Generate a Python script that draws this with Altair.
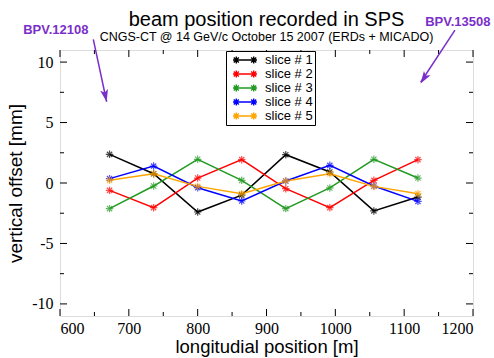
import altair as alt
import pandas as pd

# ---- data ----
x_pos = [672, 736, 800, 864, 928, 992, 1056, 1120]
slice1 = [2.37, 0.77, -2.40, -1.00, 2.34, 0.91, -2.31, -1.16]
slice2 = [-0.61, -2.04, 0.41, 1.93, -0.47, -2.04, 0.22, 1.93]
slice3 = [-2.12, -0.25, 1.96, 0.22, -2.12, -0.41, 1.96, 0.41]
slice4 = [0.36, 1.40, -0.39, -1.49, 0.17, 1.46, -0.25, -1.52]
slice5 = [0.22, 0.77, -0.28, -0.88, 0.17, 0.77, -0.28, -0.88]
series_names = ["slice # 1", "slice # 2", "slice # 3", "slice # 4", "slice # 5"]
series_colors = ["#000000", "#ff0000", "#229a22", "#0000ff", "#ffa500"]

x_major = [600, 700, 800, 900, 1000, 1100, 1200]
x_minor = [650, 750, 850, 950, 1050, 1150]
y_major = [-10, -5, 0, 5, 10]
y_minor = [-7.5, -2.5, 2.5, 7.5]

ann_labels = ["BPV.12108", "BPV.13508"]
ann_text_x = [594, 1178]
ann_text_y = [12.65, 13.3]
arrow_x0 = [648.4, 1173.8]
arrow_y0 = [11.88, 12.65]
arrow_x1 = [667.8, 1124.0]
arrow_y1 = [6.72, 8.33]
head_x = [665.9, 1128.7]
head_y = [7.21, 8.66]
head_angle = [168, 213]

W, H = 413, 266
PURPLE = "#7a2fc9"

rows = []
for name, vals in zip(series_names, [slice1, slice2, slice3, slice4, slice5]):
    for xv, yv in zip(x_pos, vals):
        rows.append({"x": xv, "y": yv, "series": name})
df = pd.DataFrame(rows)

xs = alt.Scale(domain=[600, 1200], nice=False, zero=False)
ys = alt.Scale(domain=[-11, 11], nice=False, zero=False)

star = "M0,-1L0,1M-1,0L1,0M-0.7,-0.7L0.7,0.7M-0.7,0.7L0.7,-0.7"
# legend symbol: nominal 12px box (scale 6px/unit), drawn 24px wide
leg_sym = ("M-2,0L2,0"
           "M-1.45,-0.6L-1.45,0.6M-1.87,-0.42L-1.03,0.42M-1.87,0.42L-1.03,-0.42"
           "M1.45,-0.6L1.45,0.6M1.03,-0.42L1.87,0.42M1.03,0.42L1.87,-0.42")

color = alt.Color(
    "series:N",
    scale=alt.Scale(domain=series_names, range=series_colors),
    legend=alt.Legend(
        title=None, orient="none", legendX=166, legendY=1,
        symbolType=leg_sym, symbolSize=144, symbolStrokeWidth=1.4,
        symbolFillColor="transparent", symbolOffset=10,
        labelFont="Liberation Sans", labelFontSize=13, labelColor="black",
        labelOffset=13, rowPadding=0,
        strokeColor="black", fillColor="white", padding=2,
    ),
)

xaxis = alt.Axis(values=x_major, ticks=False, domain=False, grid=False,
                 labelFont="Liberation Serif", labelFontSize=16, labelColor="black",
                 labelPadding=4, labelExpr="datum.value + ''",
                 title="longitudial position [m]", titleFont="Liberation Sans",
                 titleFontSize=18.5, titleFontWeight="normal", titleColor="black",
                 titlePadding=1)
yaxis = alt.Axis(values=y_major, ticks=False, domain=False, grid=False,
                 labelFont="Liberation Serif", labelFontSize=16, labelColor="black",
                 labelPadding=7, labelExpr="datum.value + ''",
                 title="vertical offset [mm]", titleFont="Liberation Sans",
                 titleFontSize=19, titleFontWeight="normal", titleColor="black",
                 titlePadding=6)

base = alt.Chart(df)
lines = base.mark_line(strokeWidth=1.5).encode(
    x=alt.X("x:Q", scale=xs, axis=xaxis),
    y=alt.Y("y:Q", scale=ys, axis=yaxis),
    color=color,
    order=alt.Order("x:Q"),
)
pts = base.mark_point(shape=star, filled=False, size=56, strokeWidth=1.2).encode(
    x=alt.X("x:Q", scale=xs),
    y=alt.Y("y:Q", scale=ys),
    color=alt.Color("series:N", scale=alt.Scale(domain=series_names, range=series_colors), legend=None),
)

# inward ticks
xmaj = pd.DataFrame({"v": x_major})
xmin = pd.DataFrame({"v": x_minor})
ymaj = pd.DataFrame({"v": y_major})
ymin = pd.DataFrame({"v": y_minor})

def xticks(d, L):
    b = alt.Chart(d).mark_rule(color="black", strokeWidth=1)
    return (b.encode(x=alt.X("v:Q", scale=xs), y=alt.value(H), y2=alt.value(H - L))
            + b.encode(x=alt.X("v:Q", scale=xs), y=alt.value(0), y2=alt.value(L)))

def yticks(d, L):
    b = alt.Chart(d).mark_rule(color="black", strokeWidth=1)
    return (b.encode(y=alt.Y("v:Q", scale=ys), x=alt.value(0), x2=alt.value(L))
            + b.encode(y=alt.Y("v:Q", scale=ys), x=alt.value(W), x2=alt.value(W - L)))

ticks = xticks(xmaj, 7) + xticks(xmin, 4) + yticks(ymaj, 7) + yticks(ymin, 4)

ann = pd.DataFrame({"label": ann_labels, "tx": ann_text_x, "ty": ann_text_y,
                    "x0": arrow_x0, "y0": arrow_y0, "x1": arrow_x1, "y1": arrow_y1,
                    "hx": head_x, "hy": head_y, "ang": head_angle})
ann_text = alt.Chart(ann).mark_text(color=PURPLE, font="Liberation Sans", fontSize=13,
                                    fontWeight="bold").encode(
    x=alt.X("tx:Q", scale=xs), y=alt.Y("ty:Q", scale=ys), text="label:N")
ann_rule = alt.Chart(ann).mark_rule(color=PURPLE, strokeWidth=1.5).encode(
    x=alt.X("x0:Q", scale=xs), y=alt.Y("y0:Q", scale=ys),
    x2="x1:Q", y2="y1:Q")
ann_head = alt.Chart(ann).mark_point(shape="M0,-1L0.65,1L0,0.55L-0.65,1Z", filled=True,
                                     opacity=1, color=PURPLE, size=150).encode(
    x=alt.X("hx:Q", scale=xs), y=alt.Y("hy:Q", scale=ys), angle=alt.Angle("ang:Q", scale=None))

chart = alt.layer(ticks, lines, pts, ann_rule, ann_head, ann_text).properties(
    width=W, height=H,
    title=alt.Title("beam position recorded in SPS",
                    subtitle="CNGS-CT @ 14 GeV/c  October 15 2007 (ERDs + MICADO)",
                    font="Liberation Sans", fontSize=20, fontWeight="normal", color="black",
                    subtitleFont="Liberation Sans", subtitleFontSize=12.5, subtitleColor="black",
                    subtitlePadding=1, anchor="middle", offset=9, dy=36),
    autosize=alt.AutoSizeParams(type="none"),
    padding={"left": 60, "top": 50, "right": 21, "bottom": 42},
).configure_view(stroke="black", strokeWidth=1.5).configure(background="white")

chart.save("out.html", embed_options={"renderer": "svg", "actions": False})
